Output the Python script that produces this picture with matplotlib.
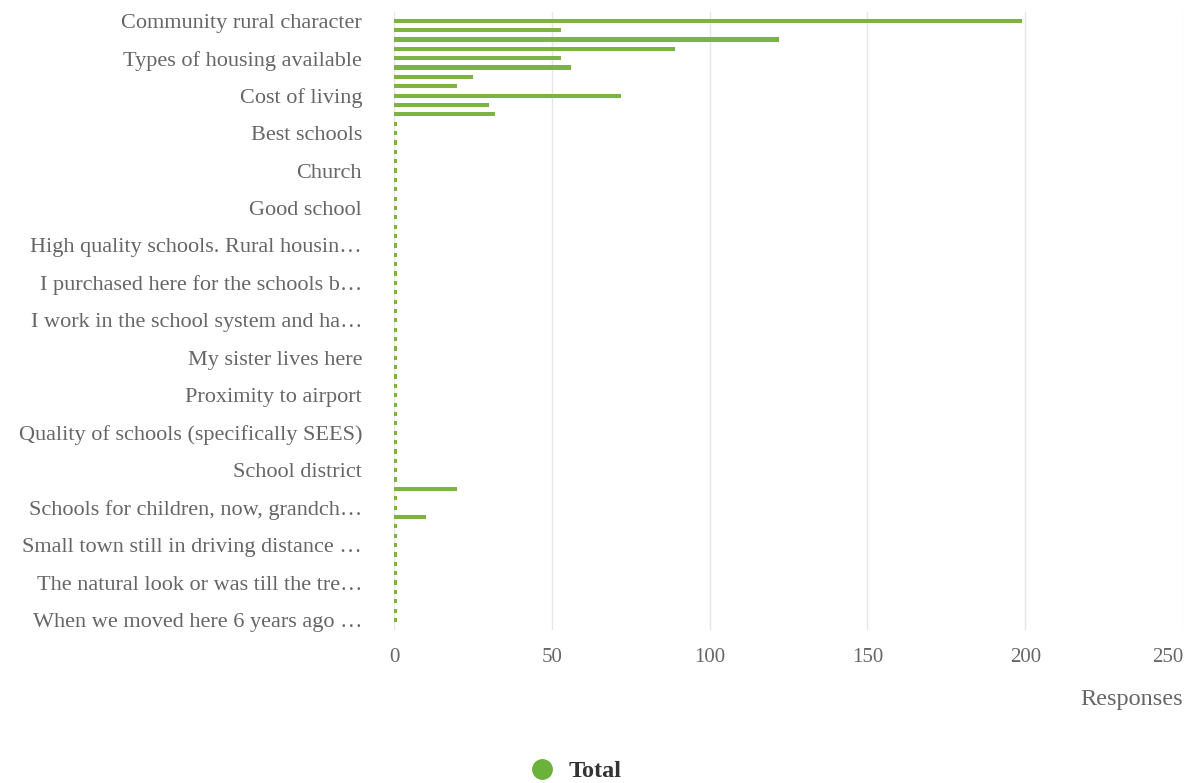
import matplotlib
matplotlib.use("Agg")
import matplotlib.pyplot as plt
from matplotlib.lines import Line2D

# ---- data ----
# 65 response categories; only every 4th one is labelled on the axis
values = [199, 53, 122, 89, 53, 56, 25, 20, 72, 30, 32] + [1] * 54
values[50] = 20
values[53] = 10
tick_labels = [
    "Community rural character",
    "Types of housing available",
    "Cost of living",
    "Best schools",
    "Church",
    "Good school",
    "High quality schools. Rural housin\u2026",
    "I purchased here for the schools b\u2026",
    "I work in the school system and ha\u2026",
    "My sister lives here",
    "Proximity to airport",
    "Quality of schools (specifically SEES)",
    "School district",
    "Schools for children, now, grandch\u2026",
    "Small town still in driving distance \u2026",
    "The natural look or was till the tre\u2026",
    "When we moved here 6 years ago \u2026",
]
label_step = 4
x_ticks = [0, 50, 100, 150, 200, 250]
series_name = "Total"
x_title = "Responses"

bar_color = "#7cb342"
text_color = "#666666"

plt.rcParams["font.family"] = ["Liberation Serif", "DejaVu Serif"]

fig = plt.figure(figsize=(11.86, 7.83), dpi=100)
ax = fig.add_axes([394 / 1186, 1 - 630 / 783, (1183 - 394) / 1186, (630 - 12) / 783])

positions = list(range(len(values)))
ax.barh(positions, values, height=0.45, color=bar_color, zorder=3)

ax.set_ylim(65.07, -0.93)
ax.set_xlim(0, 250)
ax.set_yticks(positions[::label_step])
ax.set_yticklabels(tick_labels, fontsize=16, color=text_color)
ax.set_xticks(x_ticks)
xl = ax.set_xticklabels([str(t) for t in x_ticks], fontsize=15, color=text_color)
xl[-1].set_horizontalalignment("right")
ax.tick_params(axis="y", length=0, pad=23)
ax.tick_params(axis="x", length=0, pad=13)

ax.grid(axis="x", color="#e6e6e6", linewidth=1, zorder=0)
ax.set_axisbelow(True)
for s in ax.spines.values():
    s.set_visible(False)

fig.text(1183 / 1186, 1 - 700 / 783, x_title, ha="right", va="center",
         fontsize=17.5, color=text_color)

handle = Line2D([], [], marker="o", linestyle="none", markersize=14,
                markerfacecolor="#6ab23a", markeredgecolor="#6ab23a")
leg = fig.legend([handle], [series_name], loc="center",
                 bbox_to_anchor=(576 / 1186, 1 - 771 / 783), frameon=False,
                 prop={"weight": "bold", "size": 17.5}, handlelength=1.0,
                 handletextpad=0.6)
for t in leg.get_texts():
    t.set_color("#333333")

fig.savefig("out.png", dpi=100)
